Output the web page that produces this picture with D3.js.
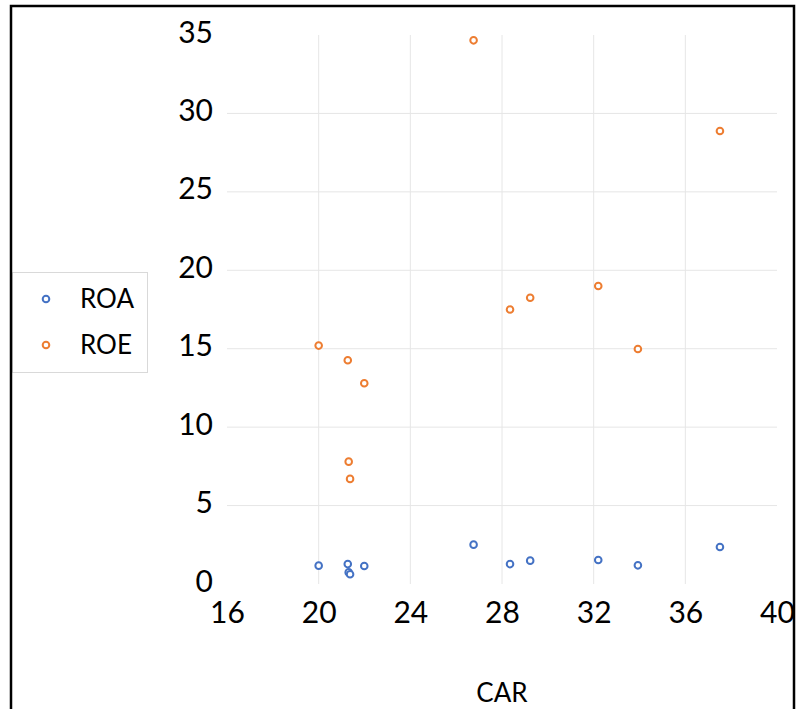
<!DOCTYPE html>
<html>
<head>
<meta charset="utf-8">
<script src="https://cdn.jsdelivr.net/npm/d3@7"></script>
<style>
  body { margin: 0; background: #fff; }
  text { font-family: Lato, "Open Sans", sans-serif; fill: #000; }
</style>
</head>
<body>
<div class="chart"></div>
<script>
// data
var car = [20.0, 21.27, 21.31, 21.37, 21.99, 26.76, 28.35, 29.23, 32.2, 33.93, 37.51];
var roa = [1.17, 1.27, 0.74, 0.62, 1.15, 2.51, 1.27, 1.49, 1.53, 1.19, 2.36];
var roe = [15.2, 14.26, 7.8, 6.7, 12.8, 34.66, 17.5, 18.25, 19.0, 14.98, 28.88];
var seriesNames = ["ROA", "ROE"];
var xTicks = [16, 20, 24, 28, 32, 36, 40];
var yTicks = [0, 5, 10, 15, 20, 25, 30, 35];

var svgWidth = 802;
var svgHeight = 709;

var colors = { ROA: "#4472C4", ROE: "#ED7D31" };

var svg = d3.select(".chart")
  .append("svg")
  .attr("width", svgWidth)
  .attr("height", svgHeight);

// plot area
var xScale = d3.scaleLinear().domain([16, 40]).range([227, 777]);
var yScale = d3.scaleLinear().domain([0, 35]).range([584, 35]);

// gridlines (interior only, like excel)
svg.append("g")
  .selectAll("line")
  .data(xTicks.slice(1, -1))
  .enter()
  .append("line")
  .attr("x1", d => xScale(d))
  .attr("x2", d => xScale(d))
  .attr("y1", yScale(0))
  .attr("y2", yScale(35))
  .attr("stroke", "#e6e6e6")
  .attr("stroke-width", 1);

svg.append("g")
  .selectAll("line")
  .data(yTicks.slice(1, -1))
  .enter()
  .append("line")
  .attr("x1", xScale(16))
  .attr("x2", xScale(40))
  .attr("y1", d => yScale(d))
  .attr("y2", d => yScale(d))
  .attr("stroke", "#e6e6e6")
  .attr("stroke-width", 1);

// axes labels using d3 axes, lines removed
var bottomAxis = d3.axisBottom(xScale).tickValues(xTicks).tickSize(0).tickPadding(0);
var leftAxis = d3.axisLeft(yScale).tickValues(yTicks).tickSize(0).tickPadding(0);

var xAxis = svg.append("g")
  .attr("transform", `translate(0, ${yScale(0)})`)
  .call(bottomAxis);
xAxis.select(".domain").remove();
xAxis.selectAll("text")
  .attr("y", 39)
  .attr("dy", null)
  .style("font-size", "30px")
  .style("font-family", "Lato, sans-serif")
  .attr("fill", "#000");

var yAxis = svg.append("g")
  .attr("transform", "translate(213, 0)")
  .call(leftAxis);
yAxis.select(".domain").remove();
yAxis.selectAll("text")
  .attr("x", 0)
  .attr("dy", "7px")
  .style("font-size", "30px")
  .style("font-family", "Lato, sans-serif")
  .attr("fill", "#000");

// x axis title
svg.append("text")
  .attr("x", (xScale(16) + xScale(40)) / 2)
  .attr("y", 702)
  .attr("text-anchor", "middle")
  .style("font-size", "26px")
  .text("CAR");

// points
var series = [
  { name: "ROA", values: roa },
  { name: "ROE", values: roe }
];

series.forEach(s => {
  svg.append("g")
    .selectAll("circle")
    .data(s.values)
    .enter()
    .append("circle")
    .attr("cx", (d, i) => xScale(car[i]))
    .attr("cy", d => yScale(d))
    .attr("r", 3.3)
    .attr("fill", "#fff")
    .attr("stroke", colors[s.name])
    .attr("stroke-width", 2);
});

// legend
var legend = svg.append("g");
legend.append("rect")
  .attr("x", 12.5)
  .attr("y", 272.5)
  .attr("width", 135)
  .attr("height", 100)
  .attr("fill", "#fff")
  .attr("stroke", "#d9d9d9")
  .attr("stroke-width", 1);

seriesNames.forEach((name, i) => {
  var ly = 299 + i * 46;
  legend.append("circle")
    .attr("cx", 46)
    .attr("cy", ly)
    .attr("r", 3.3)
    .attr("fill", "#fff")
    .attr("stroke", colors[name])
    .attr("stroke-width", 2);
  legend.append("text")
    .attr("x", 80)
    .attr("y", ly + 9)
    .style("font-size", "26px")
    .text(name);
});

// black frame (screenshot border), open at the bottom
svg.append("path")
  .attr("d", "M11,709 L11,6 L794,6 L794,709")
  .attr("fill", "none")
  .attr("stroke", "#000")
  .attr("stroke-width", 2.5);
</script>
</body>
</html>
